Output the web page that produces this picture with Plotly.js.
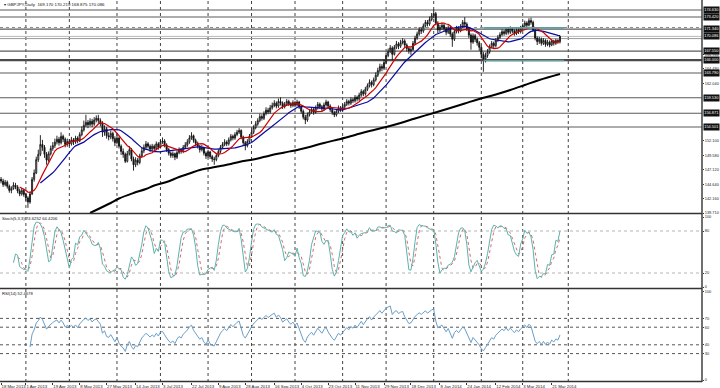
<!DOCTYPE html>
<html><head><meta charset="utf-8">
<script src="https://cdn.plot.ly/plotly-3.0.1.min.js"></script>
<style>html,body{margin:0;padding:0;background:#fff}#chart{width:720px;height:388px}</style>
</head><body><div id="chart"></div>
<script>
// ---- data (GBPJPY, Daily) ----
const openP=[
145.5,145.2,144.6,145.0,144.3,143.6,143.9,144.5,144.2,143.5,
143.0,143.6,142.9,142.3,141.6,143.0,145.5,146.6,148.9,149.8,
151.5,151.0,149.8,148.8,149.9,150.8,151.3,151.9,152.4,151.8,
152.9,152.4,151.5,152.0,151.6,152.3,151.9,152.6,152.1,153.2,
154.0,154.8,155.3,154.9,155.5,155.0,155.7,156.0,155.6,155.2,
153.6,154.2,153.0,152.8,153.4,152.5,151.8,152.6,151.2,150.3,
149.8,148.6,149.9,150.6,149.0,148.0,148.8,148.4,149.5,150.4,
151.0,151.6,151.2,150.7,151.2,150.8,151.6,151.0,151.9,152.1,
151.4,150.6,150.0,149.6,149.9,149.3,150.1,150.6,150.3,151.0,
151.4,151.9,152.6,153.0,152.2,151.7,151.2,150.6,150.9,150.0,
149.5,150.2,149.4,149.0,148.9,149.6,150.3,151.0,151.5,151.9,
151.6,152.3,152.9,152.6,153.2,153.6,153.9,152.8,151.8,151.3,
152.0,152.9,153.6,154.4,155.0,155.6,156.3,156.0,156.8,157.4,
157.1,157.8,158.2,158.6,158.1,158.9,158.6,158.0,158.4,158.9,
158.5,158.2,158.7,158.3,158.8,158.0,157.2,156.2,155.7,156.6,
157.1,157.5,157.0,157.8,158.4,158.0,157.6,158.3,158.8,158.1,
157.5,157.0,156.6,157.2,157.8,157.5,158.0,158.4,158.9,158.6,
159.2,159.0,159.6,159.3,160.0,160.6,160.2,161.0,161.6,162.2,
161.8,162.6,163.4,164.2,164.9,164.6,165.6,166.8,167.5,168.1,
167.0,168.2,168.8,168.4,169.0,169.3,168.6,168.0,167.6,167.8,
168.9,169.8,170.5,171.2,171.0,171.9,172.5,172.2,173.0,173.6,
174.0,172.4,171.2,171.6,172.0,171.4,170.8,171.6,170.5,169.6,
170.9,171.5,171.0,171.8,172.5,172.2,171.4,170.3,169.1,170.2,
169.6,169.0,168.2,167.0,166.2,166.8,167.4,168.3,168.9,168.5,
169.4,169.9,170.4,170.9,170.6,171.3,170.8,171.4,171.0,170.6,
171.2,170.9,171.5,171.9,172.4,172.0,172.8,172.5,171.2,169.8,
169.2,169.6,168.9,169.4,168.7,169.1,168.6,169.3,168.9,169.4,
169.17];
const highP=[
145.9,145.6,145.4,145.3,144.6,144.3,145.0,144.9,144.5,143.9,
144.0,143.9,143.2,142.6,143.4,145.9,147.2,149.4,150.6,153.1,
152.3,151.4,150.2,150.3,151.3,151.9,152.5,153.0,152.8,153.6,
153.2,152.7,152.5,152.4,152.8,152.6,153.0,152.9,153.6,154.6,
155.6,156.6,155.7,156.0,155.9,156.2,156.5,156.6,156.0,155.5,
154.8,154.5,153.6,153.9,153.7,152.9,153.5,152.9,151.5,150.8,
150.1,150.4,151.2,150.9,149.4,149.3,149.2,149.9,150.9,151.5,
152.1,151.9,151.5,151.6,151.5,152.0,151.9,152.3,152.7,152.4,
151.7,150.9,150.3,150.3,150.1,150.5,151.0,150.9,151.4,151.9,
152.4,153.1,153.6,153.2,152.5,152.0,151.4,151.4,151.1,150.3,
150.6,150.4,149.7,149.4,150.0,150.7,151.4,151.9,152.4,152.2,
152.7,153.3,153.2,153.6,154.0,154.3,154.1,153.0,152.1,152.4,
153.3,154.0,154.8,155.5,156.0,156.8,156.7,157.2,157.9,157.8,
158.3,158.7,159.1,158.9,159.4,159.6,158.9,158.8,159.3,159.2,
158.8,159.1,159.0,159.2,159.0,158.3,157.5,156.6,157.0,157.5,
157.9,157.8,158.2,158.8,158.7,158.3,158.7,159.2,159.0,158.4,
157.8,157.3,157.6,158.2,158.1,158.4,158.8,159.3,159.2,159.6,
159.5,160.0,159.9,160.4,161.0,160.9,161.4,162.0,162.7,162.5,
163.0,163.9,164.7,165.4,165.3,166.1,167.3,168.0,168.6,168.4,
168.6,169.3,169.1,169.5,169.8,169.6,168.9,168.3,168.2,169.3,
170.2,170.9,171.7,171.6,172.3,172.9,172.9,173.5,174.1,174.7,
174.3,172.7,172.1,172.5,172.3,171.7,172.0,171.9,170.8,171.3,
171.9,171.8,172.2,172.9,173.4,172.5,171.7,170.6,170.6,170.5,
169.9,169.3,168.5,167.4,167.3,167.9,168.7,169.3,169.2,169.8,
170.3,170.8,171.3,171.2,171.7,171.6,171.8,171.7,171.3,171.6,
171.5,171.9,172.3,172.8,172.7,173.2,173.3,172.8,171.5,170.1,
170.0,169.9,169.8,169.6,169.5,169.4,169.6,169.5,169.7,169.6,
170.219];
const lowP=[
144.8,144.2,144.3,143.9,143.2,143.1,143.7,143.8,143.1,142.6,
142.7,142.5,141.8,140.6,141.3,142.8,145.1,146.4,148.5,149.5,
150.4,149.2,148.0,148.5,149.6,150.4,150.9,151.5,151.3,151.5,
151.9,151.0,151.1,151.2,151.3,151.4,151.6,151.7,151.9,152.9,
153.7,154.5,154.3,154.6,154.5,154.7,155.3,155.1,154.6,152.8,
153.0,152.5,152.2,152.4,152.0,151.2,151.5,150.8,149.7,149.2,
148.3,148.4,149.6,148.6,147.0,147.6,147.9,148.1,149.2,150.0,
150.6,150.8,150.2,150.4,150.4,150.5,150.6,150.8,151.6,151.0,
150.2,149.6,149.2,149.2,148.8,149.0,149.8,149.9,150.0,150.7,
151.1,151.6,152.3,151.8,151.2,150.8,150.1,150.3,149.6,149.0,
149.2,149.0,148.5,148.0,148.6,149.3,150.0,150.7,151.2,151.2,
151.3,152.0,152.2,152.3,152.9,153.3,152.4,151.3,150.5,151.0,
151.7,152.6,153.3,154.1,154.7,155.3,155.6,155.7,156.5,156.7,
156.8,157.5,157.9,157.7,157.8,158.2,157.6,157.7,158.1,158.1,
157.8,157.9,157.9,158.0,157.6,156.8,155.8,155.0,155.4,156.3,
156.8,156.6,156.8,157.5,157.6,157.2,157.3,158.0,157.8,157.1,
156.6,156.2,156.3,156.9,157.1,157.2,157.7,158.1,158.2,158.3,
158.6,158.7,158.9,159.0,159.7,159.8,159.9,160.7,161.3,161.3,
161.5,162.3,163.1,163.9,164.1,164.3,165.3,166.5,167.2,166.0,
166.8,167.9,167.9,168.1,168.7,168.2,167.5,167.1,166.9,167.6,
168.6,169.5,170.2,170.5,170.7,171.6,171.8,171.9,172.7,173.2,
172.0,170.6,170.8,171.2,170.9,170.3,170.5,170.0,168.3,169.3,
170.6,170.6,170.8,171.5,171.8,171.0,169.8,167.8,168.8,169.1,
168.5,167.6,166.3,164.0,165.6,166.4,167.1,168.0,168.0,168.2,
169.1,169.6,170.1,170.2,170.3,170.4,170.5,170.6,170.2,170.3,
170.5,170.6,171.2,171.6,171.6,171.8,172.1,170.9,169.4,168.6,
168.8,168.5,168.6,168.3,168.4,168.2,168.4,168.5,168.6,168.8,
168.875];
const closeP=[
145.2,144.6,145.0,144.3,143.6,143.9,144.5,144.2,143.5,143.0,
143.6,142.9,142.3,141.6,143.0,145.5,146.6,148.9,149.8,151.5,
151.0,149.8,148.8,149.9,150.8,151.3,151.9,152.4,151.8,152.9,
152.4,151.5,152.0,151.6,152.3,151.9,152.6,152.1,153.2,154.0,
154.8,155.3,154.9,155.5,155.0,155.7,156.0,155.6,155.2,153.6,
154.2,153.0,152.8,153.4,152.5,151.8,152.6,151.2,150.3,149.8,
148.6,149.9,150.6,149.0,148.0,148.8,148.4,149.5,150.4,151.0,
151.6,151.2,150.7,151.2,150.8,151.6,151.0,151.9,152.1,151.4,
150.6,150.0,149.6,149.9,149.3,150.1,150.6,150.3,151.0,151.4,
151.9,152.6,153.0,152.2,151.7,151.2,150.6,150.9,150.0,149.5,
150.2,149.4,149.0,148.9,149.6,150.3,151.0,151.5,151.9,151.6,
152.3,152.9,152.6,153.2,153.6,153.9,152.8,151.8,151.3,152.0,
152.9,153.6,154.4,155.0,155.6,156.3,156.0,156.8,157.4,157.1,
157.8,158.2,158.6,158.1,158.9,158.6,158.0,158.4,158.9,158.5,
158.2,158.7,158.3,158.8,158.0,157.2,156.2,155.7,156.6,157.1,
157.5,157.0,157.8,158.4,158.0,157.6,158.3,158.8,158.1,157.5,
157.0,156.6,157.2,157.8,157.5,158.0,158.4,158.9,158.6,159.2,
159.0,159.6,159.3,160.0,160.6,160.2,161.0,161.6,162.2,161.8,
162.6,163.4,164.2,164.9,164.6,165.6,166.8,167.5,168.1,167.0,
168.2,168.8,168.4,169.0,169.3,168.6,168.0,167.6,167.8,168.9,
169.8,170.5,171.2,171.0,171.9,172.5,172.2,173.0,173.6,174.0,
172.4,171.2,171.6,172.0,171.4,170.8,171.6,170.5,169.6,170.9,
171.5,171.0,171.8,172.5,172.2,171.4,170.3,169.1,170.2,169.6,
169.0,168.2,167.0,166.2,166.8,167.4,168.3,168.9,168.5,169.4,
169.9,170.4,170.9,170.6,171.3,170.8,171.4,171.0,170.6,171.2,
170.9,171.5,171.9,172.4,172.0,172.8,172.5,171.2,169.8,169.2,
169.6,168.9,169.4,168.7,169.1,168.6,169.3,168.9,169.4,169.17,
170.086];
// 200-period moving average, read at points along the black line (bar index, price)
const ma200Idx=[43,48,53,57,64,70,74,80,86,91,96,101,106,111,115,123,130,137,144,149,156,164,171,178,186,193,200,209,217,224,231,239,246,253,260,270];
const ma200Val=[139.71,140.57,141.43,142.20,143.15,143.84,144.44,145.04,145.90,146.50,147.11,147.45,147.79,148.14,148.49,149.00,149.61,150.12,150.64,151.07,151.76,152.45,153.13,153.82,154.51,155.20,155.97,156.92,157.78,158.55,159.32,160.10,160.87,161.73,162.59,163.62];
// right-axis price labels (the ones not hidden behind level boxes)
const priceTickVals=[139.71,142.16,144.64,147.12,149.58,152.10,162.04,164.49,166.94];
// horizontal levels drawn on the chart
const solidLevels=[174.63,173.42,171.34,167.55,163.79,159.53,156.871,154.501];
const thickLevels=[166.00];
const dottedLevels=[171.62];
const grayLevels=[169.71];
const bidLevel=170.086;
const tealLevels=[171.55,165.95];
const tealFromIdx=233, tealToIdx=272;
// dates
const dateTickIdx=[0,12,25,38,51,65,78,92,105,118,132,145,158,171,185,198,212,225,239,252,266];
const dateTickText=["18 Mar 2013","1 Apr 2013","19 Apr 2013","8 May 2013","27 May 2013","14 Jun 2013","3 Jul 2013","22 Jul 2013","9 Aug 2013","28 Aug 2013","16 Sep 2013","4 Oct 2013","23 Oct 2013","11 Nov 2013","29 Nov 2013","18 Dec 2013","8 Jan 2014","24 Jan 2014","12 Feb 2014","3 Mar 2014","21 Mar 2014"];
const monthGridIdx=[12,33,56,77,100,121,142,165,186,209,232,252,274];
const stochTicks=[0,20,80,100];
const stochLevels=[20,80];
const rsiTicks=[0,30,40,60,70,100];
const rsiLevels=[30,40,60,70];
const headerMain="▾ GBPJPY,Daily  169.170 170.219 168.875 170.086";
const headerStoch="Stoch(5,3,3) 74.6252 64.4206";
const headerRsi="RSI(14) 52.4678";

// ---- indicators computed from the bars ----
const N=closeP.length;
const idx=closeP.map((_,i)=>i);
function sma(a,n){const r=[];for(let i=0;i<a.length;i++){if(i<n-1||a.slice(i-n+1,i+1).some(v=>v==null)){r.push(null);continue;}let s=0;for(let j=i-n+1;j<=i;j++)s+=a[j];r.push(s/n);}return r;}
const ma10=sma(closeP,10), ma20=sma(closeP,20);
function stochK(k,slow){const r=[];for(let i=0;i<N;i++){if(i<k-1+slow-1){r.push(null);continue;}let num=0,den=0;for(let j=i-slow+1;j<=i;j++){let hh=-1e9,ll=1e9;for(let m=j-k+1;m<=j;m++){hh=Math.max(hh,highP[m]);ll=Math.min(ll,lowP[m]);}num+=closeP[j]-ll;den+=hh-ll;}r.push(den>0?num/den*100:50);}return r;}
const stK=stochK(5,3), stD=sma(stK,3);
function rsi(n){const r=new Array(N).fill(null);let ag=0,al=0;for(let i=1;i<=n;i++){const c=closeP[i]-closeP[i-1];if(c>0)ag+=c;else al-=c;}ag/=n;al/=n;r[n]=al===0?100:100-100/(1+ag/al);for(let i=n+1;i<N;i++){const c=closeP[i]-closeP[i-1];ag=(ag*(n-1)+Math.max(c,0))/n;al=(al*(n-1)+Math.max(-c,0))/n;r[i]=al===0?100:100-100/(1+ag/al);}return r;}
const rsi14=rsi(14);

// ---- layout geometry (pixels of a 382px-high plot area) ----
const H=382;
const py=(y)=>(H-y)/H;
const font='Liberation Sans, Arial, sans-serif';
const tf={family:font,size:3.9,color:'#222'};

const traces=[
 {type:'candlestick',x:idx,open:openP,high:highP,low:lowP,close:closeP,xaxis:'x',yaxis:'y',
  increasing:{line:{color:'#111',width:0.9},fillcolor:'#fff'},
  decreasing:{line:{color:'#111',width:0.9},fillcolor:'#111'},whiskerwidth:0,hoverinfo:'skip',showlegend:false},
 {type:'scatter',mode:'lines',x:ma200Idx,y:ma200Val,xaxis:'x',yaxis:'y',line:{color:'#000',width:2,shape:'spline'},hoverinfo:'skip',showlegend:false},
 {type:'scatter',mode:'lines',x:idx,y:ma20,xaxis:'x',yaxis:'y',line:{color:'#0a0aa0',width:1.2},hoverinfo:'skip',showlegend:false},
 {type:'scatter',mode:'lines',x:idx,y:ma10,xaxis:'x',yaxis:'y',line:{color:'#d00000',width:1.2},hoverinfo:'skip',showlegend:false},
 {type:'scatter',mode:'lines',x:idx,y:stD,xaxis:'x',yaxis:'y2',line:{color:'#d46a6a',width:1,dash:'dot'},hoverinfo:'skip',showlegend:false},
 {type:'scatter',mode:'lines',x:idx,y:stK,xaxis:'x',yaxis:'y2',line:{color:'#5cb3ad',width:1},hoverinfo:'skip',showlegend:false},
 {type:'scatter',mode:'lines',x:idx,y:rsi14,xaxis:'x',yaxis:'y3',line:{color:'#6a9fc9',width:1},hoverinfo:'skip',showlegend:false}
];

const shapes=[];
monthGridIdx.forEach(ix=>shapes.push({type:'line',xref:'x',yref:'paper',x0:ix,x1:ix,y0:0,y1:1,line:{color:'#444',width:1,dash:'dot'},layer:'below'}));
const hl=(p,color,width,dash)=>shapes.push({type:'line',xref:'paper',yref:'y',x0:0,x1:1,y0:p,y1:p,line:{color:color,width:width,dash:dash||'solid'},layer:'below'});
solidLevels.forEach(p=>hl(p,'#5a5a5a',1.2));
thickLevels.forEach(p=>hl(p,'#4a4a4a',2.4));
dottedLevels.forEach(p=>hl(p,'#888',1,'dot'));
grayLevels.forEach(p=>hl(p,'#999',1));
hl(bidLevel,'#b8b8b8',1);
tealLevels.forEach(p=>shapes.push({type:'line',xref:'x',yref:'y',x0:tealFromIdx,x1:tealToIdx,y0:p,y1:p,line:{color:'#5f9ea0',width:1.6}}));
stochLevels.forEach(v=>shapes.push({type:'line',xref:'paper',yref:'y2',x0:0,x1:1,y0:v,y1:v,line:{color:'#b5b5b5',width:1,dash:'dot'},layer:'below'}));
rsiLevels.forEach(v=>shapes.push({type:'line',xref:'paper',yref:'y3',x0:0,x1:1,y0:v,y1:v,line:{color:'#555',width:1,dash:'dot'},layer:'below'}));
// panel frames
[213.5,288.5,381.5].forEach(y=>shapes.push({type:'line',xref:'paper',yref:'paper',x0:0,x1:1,y0:py(y),y1:py(y),line:{color:'#333',width:1.6}}));
shapes.push({type:'line',xref:'paper',yref:'paper',x0:1,x1:1,y0:0,y1:1,line:{color:'#333',width:1.4}});

const annotations=[];
const boxLevels=solidLevels.concat(thickLevels,[bidLevel]);
boxLevels.forEach(p=>annotations.push({xref:'paper',yref:'y',x:1,y:p,xanchor:'left',yanchor:'middle',xshift:1,showarrow:false,
  text:p.toFixed(3),font:{family:font,size:3.9,color:'#fff'},bgcolor:'#111',borderpad:0.3}));
annotations.push({xref:'paper',yref:'paper',x:0.003,y:py(4),xanchor:'left',yanchor:'middle',showarrow:false,text:headerMain,font:{family:font,size:4.4,color:'#111'}});
annotations.push({xref:'paper',yref:'paper',x:0.0,y:py(218),xanchor:'left',yanchor:'middle',showarrow:false,text:headerStoch,font:{family:font,size:4.2,color:'#111'}});
annotations.push({xref:'paper',yref:'paper',x:0.0,y:py(293),xanchor:'left',yanchor:'middle',showarrow:false,text:headerRsi,font:{family:font,size:4.2,color:'#111'}});

const yCommon={side:'right',anchor:'x',showgrid:false,zeroline:false,showline:false,ticks:'outside',ticklen:1,tickcolor:'#333',tickfont:tf,fixedrange:true,tickmode:'array'};
const layout={
 width:720,height:388,margin:{l:0,r:18,t:0,b:6},paper_bgcolor:'#fff',plot_bgcolor:'#fff',showlegend:false,hovermode:false,
 xaxis:{domain:[0,1],range:[-0.5,338.6],anchor:'y3',tickmode:'array',tickvals:dateTickIdx,ticktext:dateTickText,ticks:'outside',ticklen:2,tickcolor:'#333',
   tickfont:{family:font,size:4.3,color:'#222'},ticklabelposition:'outside right',tickangle:0,showgrid:false,zeroline:false,showline:false,rangeslider:{visible:false},fixedrange:true},
 yaxis:Object.assign({},yCommon,{domain:[py(213),1],range:[139.71,176.346],tickvals:priceTickVals,ticktext:priceTickVals.map(v=>v.toFixed(3))}),
 yaxis2:Object.assign({},yCommon,{domain:[py(288),py(214)],range:[-1.43,104.29],tickvals:stochTicks,ticktext:stochTicks.map(String)}),
 yaxis3:Object.assign({},yCommon,{domain:[0,py(289)],range:[-2.27,103.4],tickvals:rsiTicks,ticktext:rsiTicks.map(String)}),
 shapes:shapes,annotations:annotations
};
Plotly.newPlot('chart',traces,layout,{staticPlot:true,displayModeBar:false});
</script></body></html>
